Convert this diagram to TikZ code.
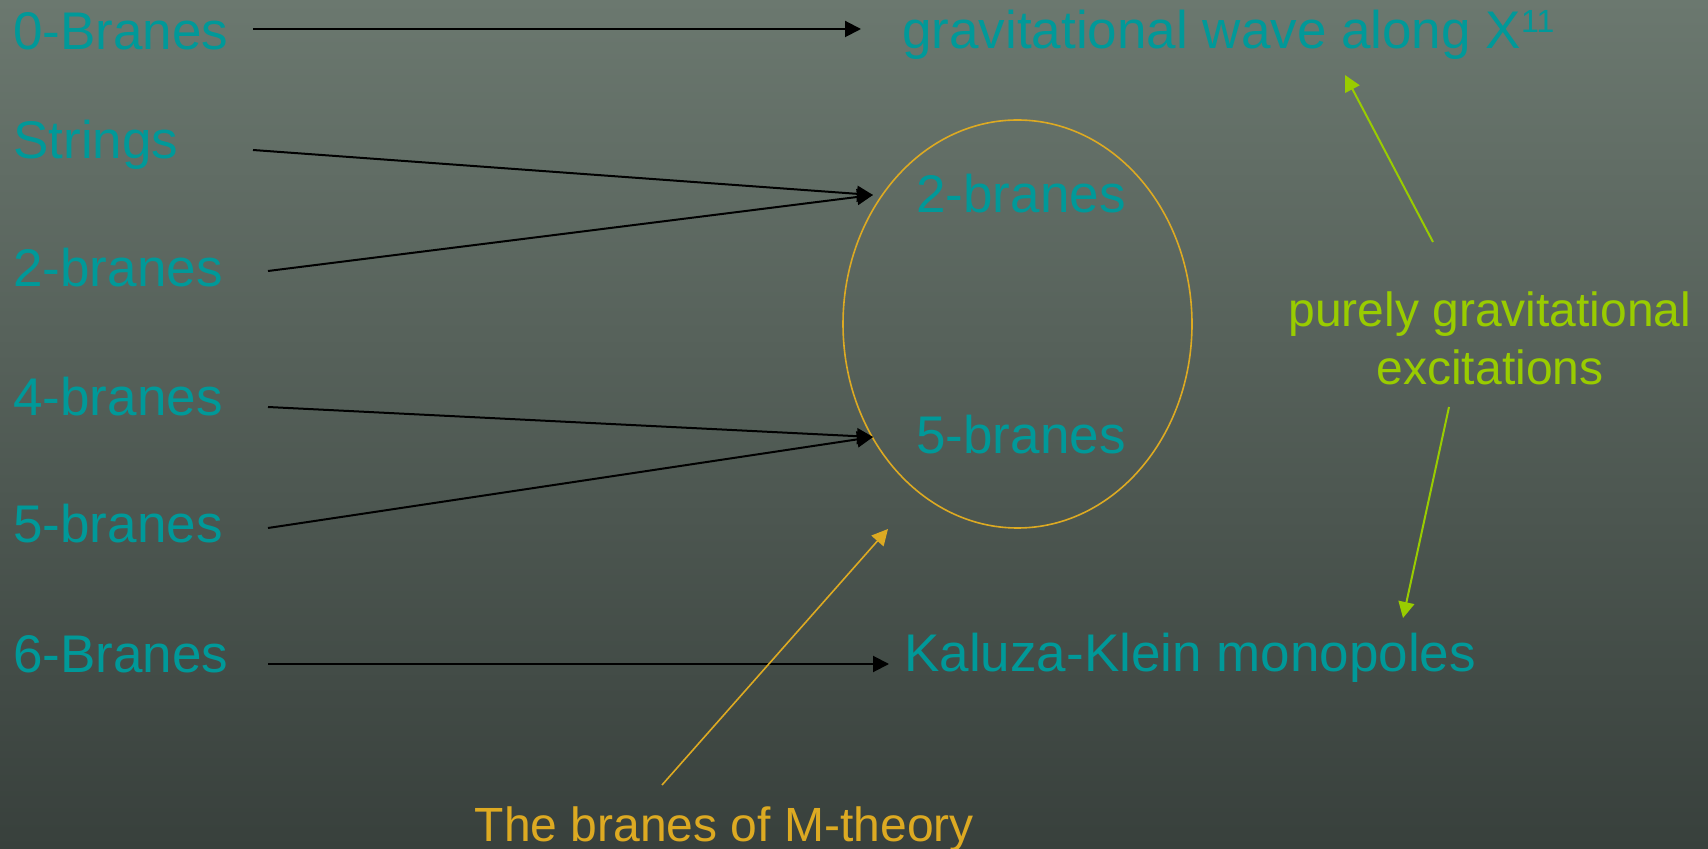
\documentclass[tikz,border=0pt]{standalone}
\usepackage{fontspec}
\setmainfont{Liberation Sans}
\usetikzlibrary{arrows.meta,shapes.geometric}
\definecolor{tealtxt}{HTML}{009999}
\definecolor{limetxt}{HTML}{99CC00}
\definecolor{goldtxt}{HTML}{DDAA22}
\definecolor{bgtop}{HTML}{6B786F}
\definecolor{bgbot}{HTML}{38403C}
\begin{document}
\begin{tikzpicture}[x=0.5pt,y=-0.5pt,
  lbl/.style={text=tealtxt, font=\fontsize{26.5}{30}\selectfont, inner sep=0pt, anchor=base west},
  note/.style={font=\fontsize{24}{29}\selectfont, inner sep=0pt},
  blk/.style={draw=black, line width=1pt, -{Triangle[length=8pt,width=8pt]}},
  grn/.style={draw=limetxt, line width=1pt, -{Triangle[length=8pt,width=8pt]}},
  yel/.style={draw=goldtxt, line width=0.8pt, -{Triangle[length=8pt,width=8pt]}}]
\shade[top color=bgtop, bottom color=bgbot] (0,0) rectangle (1708,849);
\useasboundingbox (0,0) rectangle (1708,849);

% left column
\node[lbl] (l0) at (13,50) {0-Branes};
\node[lbl] (l1) at (13,159) {Strings};
\node[lbl] (l2) at (13,287) {2-branes};
\node[lbl] (l4) at (13,416) {4-branes};
\node[lbl] (l5) at (13,543) {5-branes};
\node[lbl] (l6) at (13,672) {6-Branes};

% right side
\node[lbl] (gw) at (902,49) {gravitational wave along X\raisebox{8pt}{\fontsize{16}{16}\selectfont 11}};
\node[ellipse, draw=goldtxt, line width=0.8pt, inner sep=0pt, minimum width=174.5pt, minimum height=204pt] (ell) at (1017.5,324) {};
\node[lbl] (in2) at (916,213) {2-branes};
\node[lbl] (in5) at (916,454) {5-branes};
\node[lbl] (kk) at (904,671) {Kaluza-Klein monopoles};

\node[note, text=limetxt, align=center, anchor=base] (pg) at (1490,385) {purely gravitational\\excitations};
\node[note, text=goldtxt, anchor=base west] (mt) at (474.5,841) {The branes of M-theory};

% connector end points
\coordinate (s0) at (253,29);  \coordinate (e0) at (861,29);
\coordinate (s1) at (253,150); \coordinate (s2) at (268,271); \coordinate (t2) at (873,195);
\coordinate (s4) at (268,407); \coordinate (s5) at (268,528); \coordinate (t5) at (873,437);
\coordinate (s6) at (268,664); \coordinate (e6) at (889,664);
\coordinate (gu0) at (1433,242); \coordinate (gu1) at (1345,75);
\coordinate (gd0) at (1449,407); \coordinate (gd1) at (1403,618);
\coordinate (y0) at (662,785); \coordinate (y1) at (888,529);

\draw[blk] (s0) -- (e0);
\draw[blk] (s1) -- (t2);
\draw[blk] (s2) -- (t2);
\draw[blk] (s4) -- (t5);
\draw[blk] (s5) -- (t5);
\draw[blk] (s6) -- (e6);
\draw[grn] (gu0) -- (gu1);
\draw[grn] (gd0) -- (gd1);
\draw[yel] (y0) -- (y1);
\end{tikzpicture}
\end{document}
